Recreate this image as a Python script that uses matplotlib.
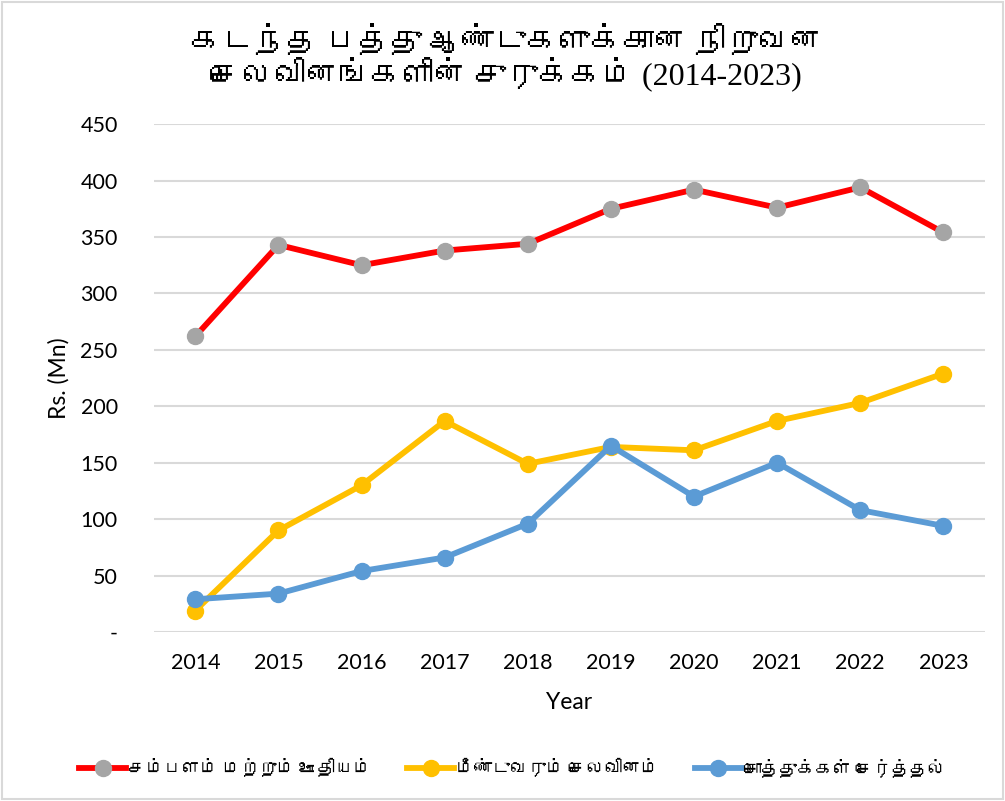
import matplotlib
matplotlib.use('Agg')
import matplotlib.pyplot as plt
from matplotlib import font_manager
from matplotlib.ft2font import FT2Font
from matplotlib.patches import Rectangle

# Data
years = ['2014', '2015', '2016', '2017', '2018', '2019', '2020', '2021', '2022', '2023']
salaries = [262, 343, 325, 338, 344, 375, 392, 376, 394, 354]
recurrent = [19, 90, 130, 187, 149, 164, 161, 187, 203, 229]
capital = [29, 34, 54, 66, 96, 165, 120, 150, 108, 94]
series_names = ['சம்பளம் மற்றும் ஊதியம்', 'மீண்டுவரும் செலவினம்', 'சொத்துக்கள் சேர்த்தல்']
title = 'கடந்த பத்து ஆண்டுகளுக்கான நிறுவன\nசெலவினங்களின் சுருக்கம் (2014-2023)'

# look for any installed font that has Tamil glyphs
tamil_fonts = []
for f in font_manager.fontManager.ttflist:
    try:
        if 0x0B95 in FT2Font(f.fname).get_charmap():
            if f.name not in tamil_fonts:
                tamil_fonts.append(f.name)
    except Exception:
        pass

text_fonts = ['Lato'] + tamil_fonts + ['DejaVu Sans']
title_fonts = ['Liberation Serif'] + tamil_fonts + ['DejaVu Sans']
plt.rcParams['font.family'] = text_fonts

fig = plt.figure(figsize=(10.05, 8.01), dpi=100)
ax = fig.add_axes([0.153, 0.211, 0.827, 0.634])

x = list(range(len(years)))
ax.plot(x, salaries, color='#ff0000', lw=4.2, marker='o', ms=11.5,
        mfc='#a5a5a5', mec='#a5a5a5', label=series_names[0], zorder=3)
ax.plot(x, recurrent, color='#ffc000', lw=4.2, marker='o', ms=11.5,
        mfc='#ffc000', mec='#ffc000', label=series_names[1], zorder=3)
ax.plot(x, capital, color='#5b9bd5', lw=4.2, marker='o', ms=11.5,
        mfc='#5b9bd5', mec='#5b9bd5', label=series_names[2], zorder=4)

ax.set_xlim(-0.5, len(years) - 0.5)
ax.set_ylim(0, 450)
ax.set_xticks(x)
ax.set_xticklabels(years)
yt = list(range(0, 451, 50))
ax.set_yticks(yt)
ax.set_yticklabels(['-' if v == 0 else str(v) for v in yt])
ax.tick_params(length=0, labelsize=15.5, colors='black')
ax.tick_params(axis='x', pad=15)
ax.tick_params(axis='y', pad=26)
ax.grid(axis='y', color='#d9d9d9', lw=1.5)
ax.set_axisbelow(True)
for s in ax.spines.values():
    s.set_visible(False)

ax.set_xlabel('Year', fontsize=16.5, labelpad=14)
ax.set_ylabel('Rs. (Mn)', fontsize=16.5, labelpad=8)

fig.text(0.503, 0.927, title, ha='center', va='center', fontsize=23,
         family=title_fonts, linespacing=0.92)

leg = fig.legend(loc='center', bbox_to_anchor=(0.51, 0.042), ncol=3,
                 frameon=False, fontsize=13, handlelength=2.6,
                 handletextpad=0.1, columnspacing=2.0)

fig.patches.append(Rectangle((0.002, 0.003), 0.996, 0.994, transform=fig.transFigure,
                             fill=False, edgecolor='#d9d9d9', lw=1.5))

fig.savefig('out.png', dpi=100)
